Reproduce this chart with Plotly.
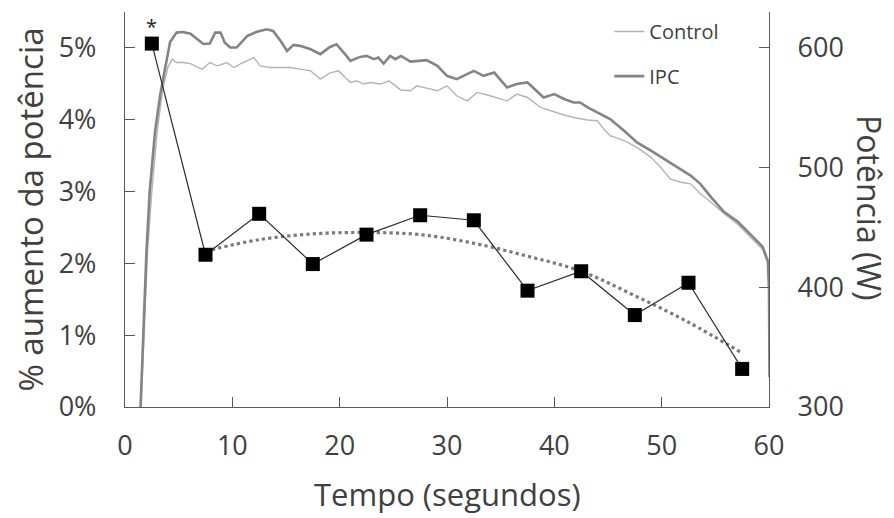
import plotly.graph_objects as go

# ---- Data ----
marker_time = [2.5, 7.5, 12.5, 17.5, 22.5, 27.5, 32.5, 37.5, 42.5, 47.5, 52.5, 57.5]
pct_increase = [5.06, 2.12, 2.69, 1.99, 2.40, 2.67, 2.60, 1.62, 1.89, 1.28, 1.73, 0.53]

trend_time = [7.5, 12.5, 17.5, 22.5, 27.5, 32.5, 37.5, 42.5, 47.5, 52.5, 57.5]
trend_pct = [2.17, 2.33, 2.41, 2.43, 2.40, 2.28, 2.10, 1.89, 1.55, 1.18, 0.75]

ipc_time = [1.45, 1.7, 2.0, 2.3, 2.8, 3.3, 3.7, 4.2, 4.8, 5.4, 6.1, 6.7, 7.3, 7.9, 8.4, 8.9,
            9.3, 9.8, 10.4, 11.4, 12.3, 13.2, 13.8, 14.5, 15.1, 15.7, 16.3, 17.3, 18.2,
            19.1, 19.7, 20.5, 21.0, 21.9, 22.5, 23.2, 23.6, 24.1, 24.7, 25.2, 25.7, 26.6,
            27.5, 28.1, 29.1, 30.0, 30.9, 31.6, 32.5, 33.4, 34.4, 35.6, 36.5, 37.5, 39.0,
            40.0, 40.9, 41.8, 42.4, 43.1, 44.0, 45.2, 46.5, 47.7, 49.0, 50.2, 51.5, 52.7,
            53.6, 54.6, 55.8, 57.1, 58.3, 59.4, 59.9, 60.0, 60.05]
ipc_power = [300, 360, 430, 480, 530, 562, 580, 605, 612.8, 613.3, 611.9, 607.5, 603.3,
             603.6, 612.8, 612.8, 604.4, 600.3, 600.3, 610.0, 613.6, 615.6, 614.2, 605.8,
             597.5, 602.5, 601.7, 598.9, 594.8, 600.8, 603.1, 594.8, 589.2, 592.5, 593.3,
             590.6, 591.9, 586.9, 593.3, 590.6, 593.3, 588.6, 589.2, 589.8, 585.0, 576.7,
             573.9, 576.7, 580.8, 576.7, 579.4, 566.9, 569.8, 571.1, 558.6, 561.4, 557.3,
             554.4, 554.4, 550.3, 546.1, 540.6, 530.8, 521.1, 514.2, 507.3, 500.3, 493.3,
             486.4, 475.3, 463.0, 454.8, 444.0, 434.0, 421.7, 397.5, 325.0]

ctrl_time = [1.5, 1.8, 2.1, 2.5, 3.0, 3.5, 4.0, 4.4, 4.8, 5.4, 6.1, 6.7, 7.2, 7.9, 8.6, 9.5,
             10.1, 11.0, 12.0, 12.6, 13.5, 14.5, 15.4, 16.3, 17.3, 18.2, 19.1, 19.9, 21.0,
             21.6, 22.2, 22.9, 23.8, 24.6, 25.7, 26.6, 27.2, 28.1, 29.1, 30.0, 30.9, 31.9,
             32.8, 34.0, 35.0, 35.6, 36.5, 37.5, 38.7, 39.6, 40.6, 41.8, 43.1, 44.0, 44.6,
             45.2, 46.5, 47.7, 49.0, 49.9, 50.8, 51.8, 52.7, 53.6, 54.6, 55.8, 57.1, 58.3,
             59.4, 59.9, 60.0, 60.05]
ctrl_power = [300, 370, 430, 480, 530, 565, 584, 590.6, 587.8, 587.8, 586.9, 584.2, 582.3,
              587.8, 585.0, 587.8, 583.6, 587.8, 591.9, 585.0, 583.6, 583.6, 583.6, 582.3,
              580.8, 573.9, 579.2, 580.8, 571.1, 572.5, 569.8, 571.1, 569.8, 572.5, 564.8,
              564.2, 568.3, 566.4, 564.2, 568.3, 560.0, 555.8, 562.8, 560.0, 557.3, 555.8,
              561.4, 558.6, 550.3, 547.5, 544.8, 541.9, 539.8, 539.2, 532.3, 526.7, 522.5,
              516.9, 508.6, 500.3, 490.6, 487.8, 486.4, 478.1, 471.1, 461.7, 452.5, 441.7,
              431.7, 420.0, 395.8, 322.5]

x_ticks = [0, 10, 20, 30, 40, 50, 60]
pct_ticks = [0, 1, 2, 3, 4, 5]
pct_labels = ["0%", "1%", "2%", "3%", "4%", "5%"]
power_ticks = [300, 400, 500, 600]

FONT = "Open Sans"
TXT = "#404040"
AX = "#595959"
TICK_SIZE = 27
TITLE_SIZE = 31

fig = go.Figure()

fig.add_trace(go.Scatter(x=ctrl_time, y=ctrl_power, mode="lines", name="Control",
                         line=dict(color="#b4b4b4", width=1.4), yaxis="y",
                         legend="legend"))
fig.add_trace(go.Scatter(x=ipc_time, y=ipc_power, mode="lines", name="IPC",
                         line=dict(color="#848484", width=2.6), yaxis="y",
                         legend="legend2"))
fig.add_trace(go.Scatter(x=trend_time, y=trend_pct, mode="lines", showlegend=False,
                         line=dict(color="#7a7a7a", width=3.2, dash="dot", shape="spline"),
                         yaxis="y2"))
fig.add_trace(go.Scatter(x=marker_time, y=pct_increase, mode="lines+markers", showlegend=False,
                         line=dict(color="#2a2a2a", width=1.2),
                         marker=dict(symbol="square", size=14, color="black"),
                         yaxis="y2"))

fig.add_annotation(x=marker_time[0], y=pct_increase[0], xref="x", yref="y2", text="*",
                   showarrow=False, yshift=17, font=dict(family=FONT, size=20, color="#222"))

# axis titles
fig.add_annotation(x=-0.1475, y=0.5, xref="paper", yref="paper", text="% aumento da potência",
                   textangle=-90, showarrow=False, xanchor="center", yanchor="middle",
                   font=dict(family=FONT, size=33, color=TXT))
fig.add_annotation(x=1.157, y=0.506, xref="paper", yref="paper", text="Potência (W)",
                   textangle=90, showarrow=False, xanchor="center", yanchor="middle",
                   font=dict(family=FONT, size=32, color=TXT))
fig.add_annotation(x=0.5, y=-0.22, xref="paper", yref="paper", text="Tempo (segundos)",
                   showarrow=False, xanchor="center", yanchor="middle",
                   font=dict(family=FONT, size=TITLE_SIZE, color=TXT))

# page body has an 8px margin: shift the drawing area by -8px to land where the reference has it
fig.update_layout(
    width=894, height=518,
    margin=dict(l=117, r=133, t=4, b=119, autoexpand=False),
    paper_bgcolor="white", plot_bgcolor="white",
    font=dict(family=FONT, color=TXT),
    xaxis=dict(range=[0, 60], tickvals=x_ticks, ticks="inside", ticklen=10, tickcolor=AX,
               showline=True, linecolor=AX, linewidth=1.3, showgrid=False, zeroline=False,
               tickfont=dict(size=TICK_SIZE, color=TXT), ticklabelstandoff=14,
               automargin=False),
    yaxis=dict(range=[300, 630], tickvals=power_ticks, side="right", ticks="inside",
               ticklen=10, tickcolor=AX, showline=True, linecolor=AX, linewidth=1.3,
               showgrid=False, zeroline=False, tickfont=dict(size=TICK_SIZE, color=TXT),
               ticklabelstandoff=22, automargin=False),
    yaxis2=dict(range=[0, 5.5], tickvals=pct_ticks, ticktext=pct_labels, overlaying="y",
                side="left", ticks="inside", ticklen=10, tickcolor=AX, showline=True,
                linecolor=AX, linewidth=1.3, showgrid=False, zeroline=False,
                tickfont=dict(size=TICK_SIZE, color=TXT), ticklabelstandoff=22,
                automargin=False),
    legend=dict(x=0.752, y=1.0, xanchor="left", yanchor="top", bgcolor="rgba(0,0,0,0)",
                font=dict(size=20, color=TXT)),
    legend2=dict(x=0.752, y=0.887, xanchor="left", yanchor="top", bgcolor="rgba(0,0,0,0)",
                 font=dict(size=20, color=TXT)),
)

fig.write_html("out.html")
